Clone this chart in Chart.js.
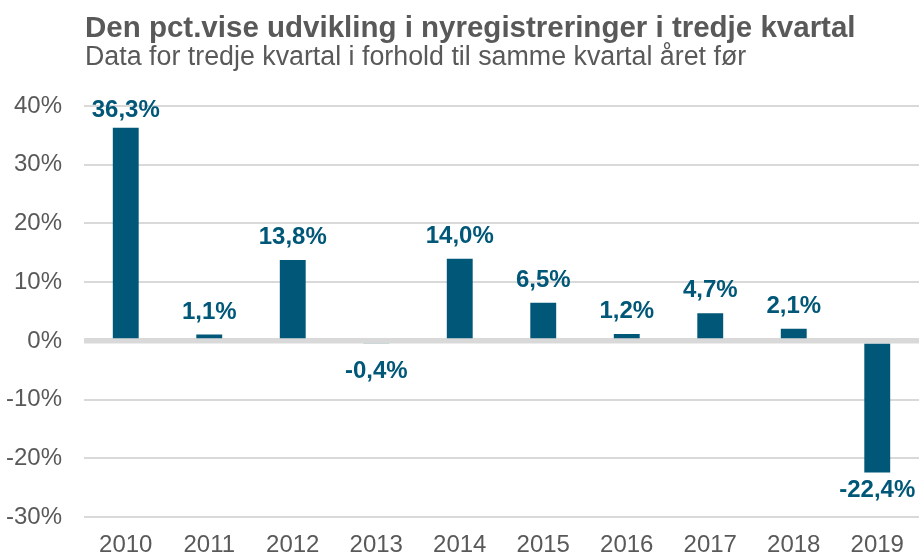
<!DOCTYPE html>
<html>
<head>
<meta charset="utf-8">
<script src="https://cdn.jsdelivr.net/npm/chart.js@4/dist/chart.umd.min.js"></script>
<style>
  html, body { margin: 0; padding: 0; background: #fff; }
  #wrap { position: relative; width: 919px; height: 554px; overflow: hidden; }
  #title { position: absolute; left: 85px; top: 12px; font: bold 29.5px "Liberation Sans", Arial, sans-serif; line-height: 29.5px; color: #595959; white-space: nowrap; }
  #subtitle { position: absolute; left: 85px; top: 43px; font: 26.8px "Liberation Sans", Arial, sans-serif; line-height: 26.8px; color: #595959; white-space: nowrap; }
  canvas { position: absolute; left: 0; top: 0; }
</style>
</head>
<body>
<div id="wrap">
  <canvas id="chart" width="919" height="554"></canvas>
  <div id="title">Den pct.vise udvikling i nyregistreringer i tredje kvartal</div>
  <div id="subtitle">Data for tredje kvartal i forhold til samme kvartal året før</div>
</div>
<script>
const years = ['2010', '2011', '2012', '2013', '2014', '2015', '2016', '2017', '2018', '2019'];
const growth = [36.3, 1.1, 13.8, -0.4, 14.0, 6.5, 1.2, 4.7, 2.1, -22.4];
const yTicks = [-30, -20, -10, 0, 10, 20, 30, 40];

const barColor = '#005778';
const font = '"Liberation Sans", Arial, sans-serif';

// zero line on top of the bars, then the value labels
const valueLabels = {
    id: 'valueLabels',
    afterDatasetsDraw(chart) {
        const ctx = chart.ctx;
        const meta = chart.getDatasetMeta(0);
        const area = chart.chartArea;
        const zeroY = chart.scales.y.getPixelForValue(0);
        ctx.save();
        ctx.strokeStyle = '#d9d9d9';
        ctx.lineWidth = 5;
        ctx.beginPath();
        ctx.moveTo(area.left, zeroY);
        ctx.lineTo(area.right, zeroY);
        ctx.stroke();

        ctx.font = 'bold 24px ' + font;
        ctx.fillStyle = barColor;
        ctx.textAlign = 'center';
        ctx.textBaseline = 'alphabetic';
        meta.data.forEach((bar, i) => {
            const v = growth[i];
            const txt = v.toFixed(1).replace('.', ',') + '%';
            let y;
            if (v >= 0) {
                y = Math.max(bar.y - 16, area.top + 11);
            } else {
                y = Math.max(bar.y + 24, zeroY + 37);
            }
            ctx.fillText(txt, bar.x, y);
        });
        ctx.restore();
    }
};

const config = {
    type: 'bar',
    data: {
        labels: years,
        datasets: [{
            data: growth,
            backgroundColor: barColor,
            barPercentage: 0.31,
            categoryPercentage: 1
        }]
    },
    options: {
        responsive: false,
        animation: false,
        layout: { padding: { top: 106, left: 0, right: 0, bottom: -20 } },
        plugins: {
            legend: { display: false },
            tooltip: { enabled: false }
        },
        scales: {
            x: {
                grid: { display: false, drawTicks: false },
                border: { display: false },
                ticks: { color: '#595959', font: { family: font, size: 24 }, padding: 14 }
            },
            y: {
                min: -30,
                max: 40,
                afterBuildTicks(scale) {
                    scale.ticks = yTicks.map(v => ({ value: v }));
                },
                afterFit(scale) { scale.width = 84; },
                grid: {
                    drawTicks: false,
                    color: '#d9d9d9',
                    lineWidth: ctx => ctx.tick && ctx.tick.value === 0 ? 5 : 2
                },
                border: { display: false },
                ticks: {
                    color: '#595959',
                    font: { family: font, size: 24 },
                    padding: 22,
                    callback: v => v + '%'
                }
            }
        }
    },
    plugins: [valueLabels]
};

window.onload = function() {
    const ctx = document.getElementById('chart').getContext('2d');
    new Chart(ctx, config);
};
</script>
</body>
</html>
